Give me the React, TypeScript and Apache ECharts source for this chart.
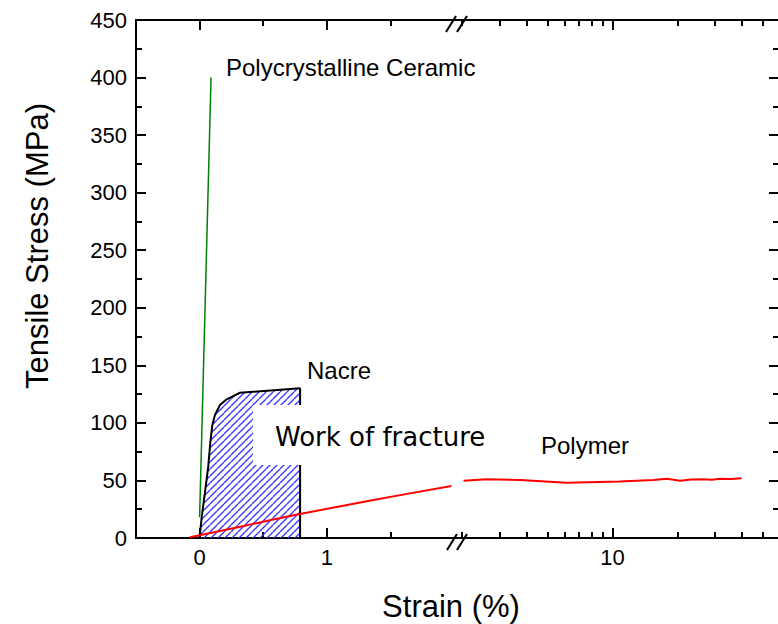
import { useEffect, useRef } from "react";
import * as echarts from "echarts";

// Strain (%) and tensile stress (MPa)
const ceramicStrain = [0, 0.09];
const ceramicStress = [18, 400];

const nacreStrain = [0, 0.017, 0.045, 0.068, 0.085, 0.1, 0.121, 0.16, 0.213, 0.318, 0.79, 0.79];
const nacreStress = [0.6, 18.5, 42, 62, 84, 98, 107, 115.5, 120.5, 126.2, 130, 0];

// Polymer below the axis break (linear strain scale)
const polymerLinStrain = [-0.075, 0.357, 0.789, 1.366, 1.98];
const polymerLinStress = [0.6, 10.7, 20.8, 33, 45.2];

// Polymer above the axis break (logarithmic strain scale)
const polymerLogStrain = [2.03, 2.6, 3.72, 6.13, 10.8, 15.5, 17.9, 20.6, 23.2, 26.4, 29.0, 31.6, 35.5, 39.8];
const polymerLogStress = [49.8, 51, 50.4, 48, 49, 50.4, 51.5, 49.8, 50.9, 51, 50.6, 51.5, 51.2, 52];

// Axis ticks
const linMajorTicks = [0, 1];
const linMinorTicks = [0.5, 1.5];
const logMajorTicks = [10];
const logMinorTicks = [2, 3, 4, 5, 6, 7, 8, 9, 20, 30, 40, 50];

const FONT = "'Liberation Sans', Arial, sans-serif";
const BLACK = "#000";

const zip = (xs: number[], ys: number[]) => xs.map((x, i) => [x, ys[i]]);

function xTickAxis(
  gridIndex: number,
  position: "top" | "bottom",
  type: "value" | "log",
  min: number,
  max: number,
  ticks: number[],
  length: number,
  withLine: boolean,
  labels?: number[]
) {
  return {
    gridIndex,
    position,
    type,
    min,
    max,
    axisLine: { show: withLine, onZero: false, lineStyle: { color: BLACK, width: 2 } },
    axisTick: {
      show: true,
      inside: true,
      length,
      customValues: ticks,
      lineStyle: { color: BLACK, width: 2 },
    },
    axisLabel: labels
      ? {
          show: true,
          customValues: labels,
          color: BLACK,
          fontSize: 22,
          fontFamily: FONT,
          margin: 8,
        }
      : { show: false },
    splitLine: { show: false },
  };
}

function yAxisFor(gridIndex: number, position: "left" | "right", labels: boolean) {
  return {
    gridIndex,
    type: "value",
    position,
    min: 0,
    max: 450,
    interval: 50,
    axisLine: { show: true, onZero: false, lineStyle: { color: BLACK, width: 2 } },
    axisTick: { show: true, inside: true, length: 10, lineStyle: { color: BLACK, width: 2 } },
    minorTick: { show: true, splitNumber: 2, length: 6, lineStyle: { color: BLACK, width: 2 } },
    axisLabel: labels
      ? { show: true, color: BLACK, fontSize: 22, fontFamily: FONT, margin: 9 }
      : { show: false },
    splitLine: { show: false },
    minorSplitLine: { show: false },
  };
}

// 45° blue hatch tile for the work-of-fracture area
function makeHatch() {
  const size = 7;
  const c = document.createElement("canvas");
  c.width = size;
  c.height = size;
  const ctx = c.getContext("2d")!;
  ctx.strokeStyle = "#3535ff";
  ctx.lineWidth = 1.3;
  for (const k of [-size, 0, size]) {
    ctx.beginPath();
    ctx.moveTo(k, size);
    ctx.lineTo(k + size, 0);
    ctx.stroke();
  }
  return c;
}

export default function App() {
  const ref = useRef<HTMLDivElement>(null);

  useEffect(() => {
    if (!ref.current) return;
    const chart = echarts.init(ref.current, null, { renderer: "svg" });
    const hatch = makeHatch();

    const LIN_MIN = -0.5;
    const LIN_MAX = 2;
    const LOG_MIN = 1.834;
    const LOG_MAX = 59.4;

    const option: any = {
      animation: false,
      backgroundColor: "#fff",
      grid: [
        { left: 136, top: 20, width: 318, height: 518, outerBoundsMode: "none" },
        { left: 454, top: 20, width: 325, height: 518, outerBoundsMode: "none" },
      ],
      xAxis: [
        xTickAxis(0, "bottom", "value", LIN_MIN, LIN_MAX, linMajorTicks, 10, true, linMajorTicks),
        xTickAxis(0, "bottom", "value", LIN_MIN, LIN_MAX, linMinorTicks, 6, false),
        xTickAxis(0, "top", "value", LIN_MIN, LIN_MAX, linMajorTicks, 10, true),
        xTickAxis(0, "top", "value", LIN_MIN, LIN_MAX, linMinorTicks, 6, false),
        xTickAxis(1, "bottom", "log", LOG_MIN, LOG_MAX, logMajorTicks, 10, true, logMajorTicks),
        xTickAxis(1, "bottom", "log", LOG_MIN, LOG_MAX, logMinorTicks, 6, false),
        xTickAxis(1, "top", "log", LOG_MIN, LOG_MAX, logMajorTicks, 10, true),
        xTickAxis(1, "top", "log", LOG_MIN, LOG_MAX, logMinorTicks, 6, false),
      ],
      yAxis: [yAxisFor(0, "left", true), yAxisFor(1, "right", false)],
      series: [
        {
          name: "Nacre",
          type: "line",
          xAxisIndex: 0,
          yAxisIndex: 0,
          data: zip(nacreStrain, nacreStress),
          showSymbol: false,
          silent: true,
          lineStyle: { color: BLACK, width: 2 },
          areaStyle: {
            color: { image: hatch, repeat: "repeat", imageWidth: 7, imageHeight: 7 },
            opacity: 1,
          },
          z: 2,
        },
        {
          name: "Polymer",
          type: "line",
          xAxisIndex: 0,
          yAxisIndex: 0,
          data: zip(polymerLinStrain, polymerLinStress),
          showSymbol: false,
          silent: true,
          smooth: 0.3,
          lineStyle: { color: "#ff0000", width: 2 },
          z: 3,
        },
        {
          name: "Polymer",
          type: "line",
          xAxisIndex: 4,
          yAxisIndex: 1,
          data: zip(polymerLogStrain, polymerLogStress),
          showSymbol: false,
          silent: true,
          lineStyle: { color: "#ff0000", width: 2 },
          z: 3,
        },
        {
          name: "Polycrystalline Ceramic",
          type: "line",
          xAxisIndex: 0,
          yAxisIndex: 0,
          data: zip(ceramicStrain, ceramicStress),
          showSymbol: false,
          silent: true,
          lineStyle: { color: "#008000", width: 1.5 },
          z: 4,
        },
      ],
      graphic: [
        {
          type: "text",
          x: 226,
          y: 67,
          z: 10,
          style: { text: "Polycrystalline Ceramic", fill: BLACK, fontSize: 24, fontFamily: FONT, verticalAlign: "middle" },
        },
        {
          type: "text",
          x: 307,
          y: 370,
          z: 10,
          style: { text: "Nacre", fill: BLACK, fontSize: 24, fontFamily: FONT, verticalAlign: "middle" },
        },
        {
          type: "text",
          x: 541,
          y: 445,
          z: 10,
          style: { text: "Polymer", fill: BLACK, fontSize: 24, fontFamily: FONT, verticalAlign: "middle" },
        },
        {
          type: "rect",
          z: 10,
          shape: { x: 253, y: 405, width: 245, height: 60 },
          style: { fill: "#fff" },
        },
        {
          type: "text",
          x: 275,
          y: 437,
          z: 11,
          style: {
            text: "Work of fracture",
            fill: BLACK,
            fontSize: 26,
            fontFamily: "'DejaVu Sans', sans-serif",
            verticalAlign: "middle",
          },
        },
        {
          type: "text",
          x: 451,
          y: 606,
          z: 10,
          style: { text: "Strain (%)", fill: BLACK, fontSize: 31, fontFamily: FONT, align: "center", verticalAlign: "middle" },
        },
        {
          type: "text",
          x: 37,
          y: 246,
          rotation: Math.PI / 2,
          z: 10,
          style: {
            text: "Tensile Stress (MPa)",
            fill: BLACK,
            fontSize: 31,
            fontFamily: FONT,
            align: "center",
            verticalAlign: "middle",
          },
        },
        // axis break marks
        { type: "line", z: 12, shape: { x1: 447, y1: 550, x2: 457, y2: 534 }, style: { stroke: BLACK, lineWidth: 2 } },
        { type: "line", z: 12, shape: { x1: 457, y1: 550, x2: 467, y2: 534 }, style: { stroke: BLACK, lineWidth: 2 } },
        { type: "line", z: 12, shape: { x1: 446, y1: 32, x2: 456, y2: 16 }, style: { stroke: BLACK, lineWidth: 2 } },
        { type: "line", z: 12, shape: { x1: 457, y1: 32, x2: 467, y2: 16 }, style: { stroke: BLACK, lineWidth: 2 } },
      ],
    };

    chart.setOption(option);
    return () => chart.dispose();
  }, []);

  return (
    <div
      ref={ref}
      style={{ position: "absolute", left: 0, top: 0, width: 778, height: 624, background: "#fff" }}
    />
  );
}
